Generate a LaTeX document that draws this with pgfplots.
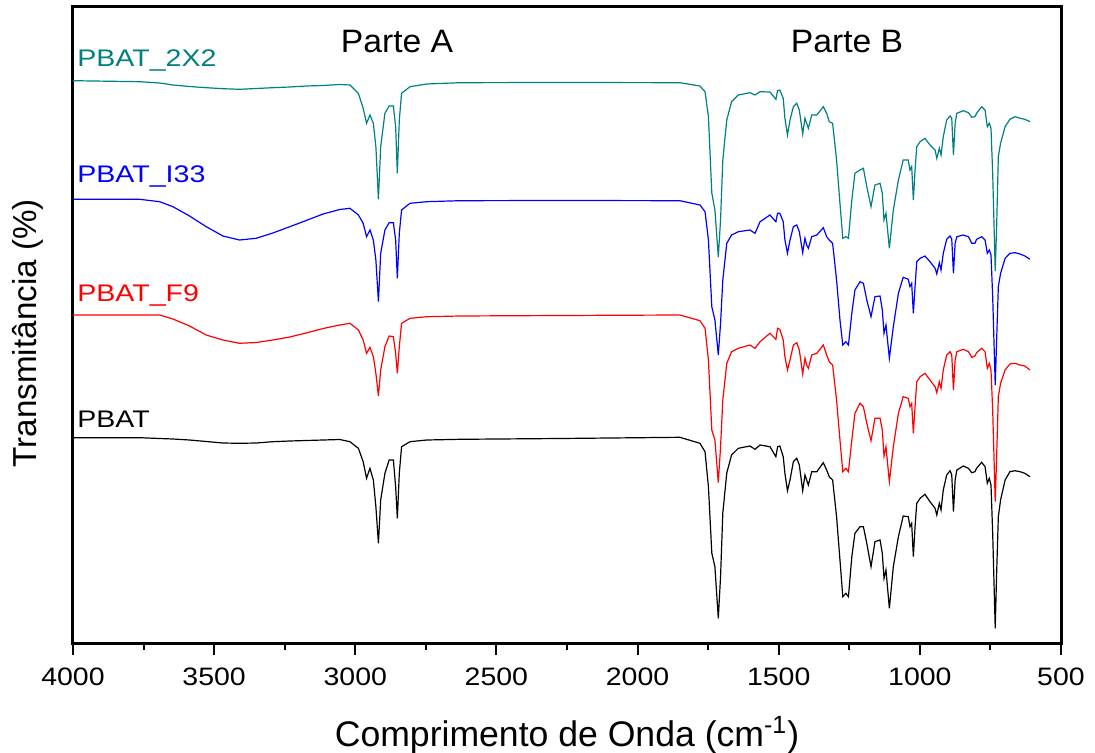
\documentclass[border=0pt]{standalone}
\usepackage{pgfplots}
\pgfplotsset{compat=1.18}
\usepackage{pgfplotstable}
\usepackage{fontspec}
\setmainfont{Liberation Sans}
\newfontfamily\lblfont{Liberation Sans}[FakeStretch=1.19]
\newfontfamily\tickfont{Liberation Sans}[FakeStretch=1.13]
\newfontfamily\partfont{Liberation Sans}[FakeStretch=1.04]
\definecolor{tealc}{RGB}{0,128,128}
\definecolor{blueC}{RGB}{0,0,255}
\definecolor{redC}{RGB}{255,0,0}

% y values (vertical position, downwards)
\pgfplotstableread{
wn   teal   blue   red    black
4000 80.7   199.3  315    437.7
3764 81.7   199.3  315    437.7
3693 83     201.7  315    438.5
3646 85     206.7  319    439
3587 86.5   216    326    440
3528 87.7   226.7  335    441.5
3469 88.7   236    340    443
3410 89.3   240    343.3  443.3
3351 88.5   238.3  342.5  443
3292 87.7   233    340    441.7
3232 87     226.7  337    441
3174 86     220.5  333    440.5
3114 85.5   214    328.5  440
3055 84.5   209.5  325    439.5
3019 85     208.3  323.3  441.7
2989 93.3   215    330    448.3
2972 108.3  223.3  340    461.7
2960 123.3  236.7  353.3  478.3
2948 115    230    347.3  468.3
2936 123.3  240    356.7  480
2927 146.7  260    373.3  506.7
2918 199.3  301.7  396    543.3
2910 146.7  253.3  370    500
2895 113.3  230    346.7  473.3
2880 106    222.7  336    460
2865 106    222.7  336.7  460
2857 126.7  240    353.3  486.7
2851 173.3  278.3  373.3  518.3
2844 120    233.3  346.7  473.3
2836 93.3   210    323.3  446.7
2806 86.7   203.3  318.3  441.7
2747 84     201.7  316.7  440
2629 82.7   200.7  316    439.3
2275 82.5   200.5  315.5  438.5
1850 82.7   200.7  315    437.3
1779 86     205    320.7  443.3
1761 91.7   211.7  328.3  451.7
1749 116.7  240    360    486.7
1737 193    306.7  430    553
1726 210    320    440    566.7
1714 257    355    482.7  618.3
1706 220    323.3  446.7  576.7
1698 160    280    400    513
1684 120    243.3  363.3  473
1667 101.7  235    351.7  455
1643 95     231.7  348.3  448.3
1602 92.7   230    345    446
1584 95     233.3  348.3  449.3
1566 91.7   221.7  341.7  445
1531 92     215    333.3  446.7
1510 99.3   221.7  339.3  456.7
1504 90.7   213.3  328.3  446.7
1496 90     213.3  329.3  446
1484 98.3   221.7  340    456.7
1478 118.3  240    356.7  473.3
1469 135    253.3  370    490.7
1460 120    240    360    480
1448 106.7  226.7  345    461.7
1436 103.3  225    342.7  458.3
1427 110    231.7  350    465
1415 134    252.7  374    490.7
1407 118.3  238.3  358.3  475
1401 123.3  245    365    480
1395 128.3  248.3  368.3  485
1383 115    236.7  355    471.7
1365 115    235    353.3  471.7
1342 106.7  227.7  345    462.7
1330 113.3  236.7  355    470
1321 121.7  240    361.7  476.7
1309 123.3  243.3  365    480
1295 160    280    400    516.7
1283 203.3  320    440    560
1273 238.3  345    471.7  596.7
1262 236.7  341.7  468.3  593.3
1253 238.3  345    471.7  596.7
1241 200    313.3  440    556.7
1230 173.3  290    413.3  533.3
1212 170    281.7  403.3  526.7
1200 168.3  283.3  406.7  526.7
1188 186.7  300    423.3  543.3
1173 206.7  316.7  440.7  566.7
1159 185    296.7  418.3  541.7
1141 183.3  296    418.3  540
1133 193.3  310    430    553.3
1127 220    333.3  456    578.3
1120 213.3  325    446.7  570
1108 248.3  358.3  481.7  608.3
1094 210    326.7  446.7  566.7
1076 180    293.3  413.3  536.7
1059 160    277.3  396.7  516
1041 160    279.3  398.3  516.7
1035 170    286.7  406.7  526.7
1029 166.7  283.3  403.3  523.3
1023 200    313.3  433.3  556.7
1017 170    286.7  406.7  526.7
1011 146.7  261.7  381.7  503.3
999  141.7  258.3  376.7  498.3
982  138.3  256    373.3  494.3
964  145    261.7  380    501.7
946  150    268.3  386.7  508.3
940  158.3  274    392.7  515
931  148.3  262.7  381.7  503.3
925  155    270    388.3  510
917  136.7  253.3  370    490
905  120    239.3  355    475
893  116    236    351.7  470.7
887  118.3  239.3  355    475
881  155    273.3  390    511.7
875  123.3  243.3  360    480
869  113.3  236.7  351.7  470
846  110.7  235    349.3  466
828  112.7  236.7  351.7  468.3
816  117.3  243.3  357.3  472.7
805  116.7  243.3  356    471.7
799  113.3  239.3  352.7  468.3
781  106.7  236.7  348.3  462.3
769  110    240    351.7  466.7
761  126.7  253.3  368.3  483.3
754  123.3  250    363.3  478.3
748  128.3  255    370    485
742  173.3  296.7  410    533.3
733  271    385    501.7  628.3
728  226.7  340    456.7  573.3
722  156.7  286.7  396.7  516.7
714  143.3  273.3  383.3  500
698  126.7  258.3  370    480
681  119.3  253.3  364    471.7
663  116.7  252.7  363.3  470.7
645  118.3  254    365    471.7
628  119.3  256    366    473.3
610  121.7  259.3  370    476.7
}\spectra

\begin{document}
\begin{tikzpicture}
\begin{axis}[
  scale only axis,
  width=494pt, height=318pt,
  x dir=reverse, y dir=reverse,
  xmin=500, xmax=4000, ymin=7, ymax=643,
  xtick={500,1000,...,4000},
  minor x tick num=1,
  xtick pos=bottom,
  ytick=\empty,
  tick align=outside,
  major tick length=6pt,
  minor tick length=3.5pt,
  every tick/.style={black, line width=1pt},
  axis line style={line width=1.5pt},
  /pgf/number format/assume math mode=true,
  /pgf/number format/1000 sep={},
  xticklabel style={font=\tickfont\fontsize{12.6}{14}\selectfont, yshift=-3pt},
  xlabel={Comprimento de Onda (cm\textsuperscript{-1})},
  ylabel={Transmitância (\%)},
  xlabel style={font=\fontsize{17.8}{20}\selectfont, at={(axis description cs:0.5,-0.1447)}, anchor=center},
  ylabel style={font=\fontsize{16.6}{19}\selectfont, at={(axis description cs:-0.0455,0.487)}, anchor=center},
  clip=false,
]
\addplot[black, line width=0.6pt] table[x=wn, y=black] {\spectra};
\addplot[redC, line width=0.6pt] table[x=wn, y=red] {\spectra};
\addplot[blueC, line width=0.6pt] table[x=wn, y=blue] {\spectra};
\addplot[tealc, line width=0.6pt] table[x=wn, y=teal] {\spectra};

\node[anchor=base west, text=tealc, font=\lblfont\fontsize{12}{14}\selectfont, inner sep=0pt] at (axis cs:3986,66.5) {PBAT\_2X2};
\node[anchor=base west, text=blueC, font=\lblfont\fontsize{12}{14}\selectfont, inner sep=0pt] at (axis cs:3986,182.5) {PBAT\_I33};
\node[anchor=base west, text=redC, font=\lblfont\fontsize{12}{14}\selectfont, inner sep=0pt] at (axis cs:3986,301.5) {PBAT\_F9};
\node[anchor=base west, text=black, font=\lblfont\fontsize{12}{14}\selectfont, inner sep=0pt] at (axis cs:3986,427.5) {PBAT};
\node[anchor=center, font=\partfont\fontsize{16.2}{18}\selectfont] at (axis cs:2852,42) {Parte A};
\node[anchor=center, font=\partfont\fontsize{16.2}{18}\selectfont] at (axis cs:1258,42) {Parte B};

\coordinate (sw) at (rel axis cs:0,0);
\coordinate (ne) at (rel axis cs:1,1);
\end{axis}
\pgfresetboundingbox
\path ([shift={(-36.5pt,-55pt)}]sw) rectangle ([shift={(17pt,3.5pt)}]ne);
\end{tikzpicture}
\end{document}
